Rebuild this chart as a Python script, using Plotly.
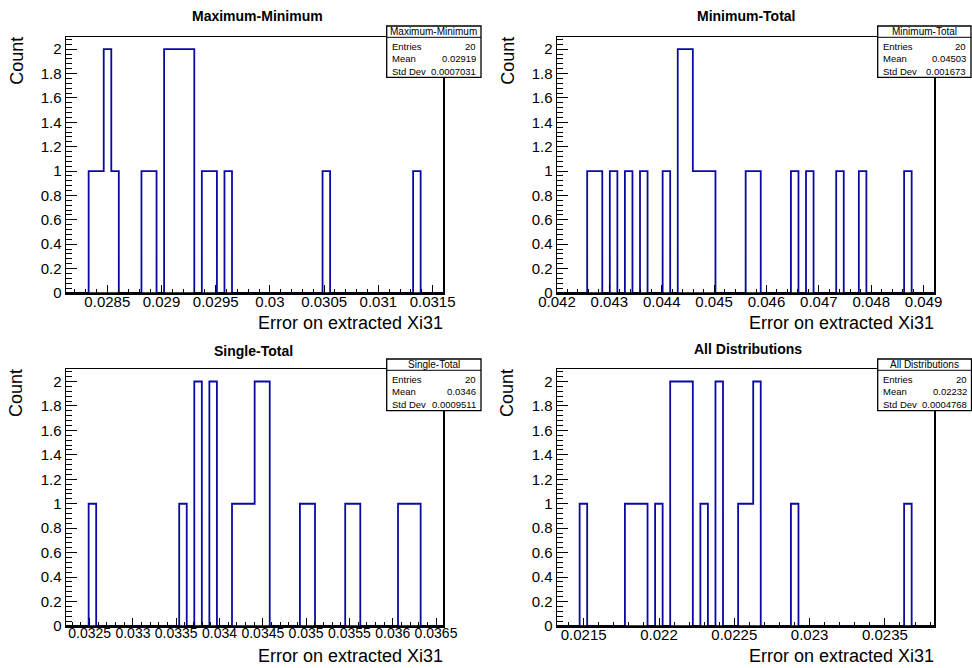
import numpy as np
import plotly.graph_objects as go

# ---------------- data ----------------
titles = ["Maximum-Minimum", "Minimum-Total", "Single-Total", "All Distributions"]
n_bins = 50
x_low = [0.028119, 0.042000, 0.032227, 0.0213227]
x_high = [0.031599, 0.049204, 0.036584, 0.023828]

counts_max_min = [0, 0, 0, 1, 1, 2, 1, 0, 0, 0,
                  1, 1, 0, 2, 2, 2, 2, 0, 1, 1,
                  0, 1, 0, 0, 0, 0, 0, 0, 0, 0,
                  0, 0, 0, 0, 1, 0, 0, 0, 0, 0,
                  0, 0, 0, 0, 0, 0, 1, 0, 0, 0]
counts_min_tot = [0, 0, 0, 0, 1, 1, 0, 1, 0, 1,
                  0, 1, 0, 0, 1, 0, 2, 2, 1, 1,
                  1, 0, 0, 0, 0, 1, 1, 0, 0, 0,
                  0, 1, 0, 1, 0, 0, 0, 1, 0, 0,
                  1, 0, 0, 0, 0, 0, 1, 0, 0, 0]
counts_single_tot = [0, 0, 0, 1, 0, 0, 0, 0, 0, 0,
                     0, 0, 0, 0, 0, 1, 0, 2, 0, 2,
                     0, 0, 1, 1, 1, 2, 2, 0, 0, 0,
                     0, 1, 1, 0, 0, 0, 0, 1, 1, 0,
                     0, 0, 0, 0, 1, 1, 1, 0, 0, 0]
counts_all = [0, 0, 0, 1, 0, 0, 0, 0, 0, 1,
              1, 1, 0, 1, 0, 2, 2, 2, 0, 1,
              0, 2, 0, 0, 1, 1, 2, 0, 0, 0,
              0, 1, 0, 0, 0, 0, 0, 0, 0, 0,
              0, 0, 0, 0, 0, 0, 1, 0, 0, 0]
all_counts = [counts_max_min, counts_min_tot, counts_single_tot, counts_all]

stat_entries = ["20", "20", "20", "20"]
stat_mean = ["0.02919", "0.04503", "0.0346", "0.02232"]
stat_std = ["0.0007031", "0.001673", "0.0009511", "0.0004768"]

x_major = [0.0005, 0.001, 0.0005, 0.0005]
x_minor = [0.0001, 0.0002, 0.0001, 0.0001]
y_max = 2.1

x_title = "Error on extracted Xi31"
y_title = "Count"

# ---------------- layout helpers ----------------
W, H = 972, 668
FONT = "Liberation Sans, Arial, Helvetica, sans-serif"
LINE_COLOR = "#0a0aa0"


def px(x):
    return x / W


def py(y):
    return 1 - y / H


# frame pixel boxes: (left, right, top, bottom)
frames = [(66, 443.3, 37, 293), (557, 934.3, 37, 293),
          (66, 443.3, 369.3, 626), (557, 934.3, 369.3, 626)]
stat_boxes = [(386.7, 481, 26, 77.3), (877.7, 971, 26, 77.3),
              (386.7, 481, 359, 410.7), (877.7, 971.5, 359, 410.7)]
title_pos = [(257.7, 16), (746.7, 16), (254, 350.7), (747.7, 349)]
x_tick_size = [15, 15, 14, 15]

fig = go.Figure()
layout = dict(
    template="none",
    width=W, height=H,
    margin=dict(l=0, r=0, t=0, b=0, pad=0, autoexpand=False),
    paper_bgcolor="white", plot_bgcolor="white",
    showlegend=False,
    font=dict(family=FONT, color="black"),
)
annotations = []
shapes = []

for i in range(4):
    sfx = "" if i == 0 else str(i + 1)
    edges = np.linspace(x_low[i], x_high[i], n_bins + 1)
    c = list(all_counts[i])
    ys = c + [c[-1]]
    fig.add_trace(go.Scatter(
        x=edges, y=ys, mode="lines", line=dict(shape="hv", color=LINE_COLOR, width=1.8),
        xaxis="x" + sfx, yaxis="y" + sfx, hoverinfo="skip",
    ))
    l, r, t, b = frames[i]
    layout["xaxis" + sfx] = dict(
        domain=[px(l), px(r)], anchor="y" + sfx, range=[x_low[i], x_high[i]],
        automargin=False,
        tick0=0, dtick=x_major[i], ticks="inside", ticklen=8, tickwidth=1, tickcolor="black",
        minor=dict(tick0=0, dtick=x_minor[i], ticks="inside", ticklen=4, tickwidth=1,
                   tickcolor="black", showgrid=False),
        showline=True, linecolor="black", linewidth=1.5, mirror=True,
        showgrid=False, zeroline=False, tickangle=0, ticklabelstandoff=-6,
        tickfont=dict(family=FONT, size=x_tick_size[i], color="black"),
    )
    layout["yaxis" + sfx] = dict(
        domain=[py(b), py(t)], anchor="x" + sfx, range=[0, y_max],
        automargin=False,
        tick0=0, dtick=0.2, ticks="inside", ticklen=11, tickwidth=1, tickcolor="black",
        minor=dict(tick0=0, dtick=0.04, ticks="inside", ticklen=6, tickwidth=1,
                   tickcolor="black", showgrid=False),
        showline=True, linecolor="black", linewidth=1.5, mirror=True,
        showgrid=False, zeroline=False,
        tickfont=dict(family=FONT, size=15, color="black"),
    )
    # black baseline over the histogram's zero level (as the frame hides it in ROOT)
    shapes.append(dict(type="line", xref="x" + sfx + " domain", yref="y" + sfx,
                       x0=0, x1=1, y0=0, y1=0,
                       line=dict(color="black", width=1.6), layer="above"))
    # histogram title
    tx, ty = title_pos[i]
    annotations.append(dict(
        x=px(tx), y=py(ty), xref="paper", yref="paper", showarrow=False,
        text="<b>" + titles[i] + "</b>", font=dict(family=FONT, size=14, color="black"),
        xanchor="center", yanchor="middle",
    ))
    # axis titles
    annotations.append(dict(
        x=px(r + 2), y=py(b + 30), xref="paper", yref="paper", showarrow=False,
        text=x_title, font=dict(family=FONT, size=18, color="black"),
        xanchor="right", yanchor="middle",
    ))
    annotations.append(dict(
        x=px(l - 49.3), y=py(t - 2), xref="paper", yref="paper", showarrow=False,
        text=y_title, textangle=-90, font=dict(family=FONT, size=18, color="black"),
        xanchor="center", yanchor="top",
    ))
    # stat box
    sl, sr, st, sb = stat_boxes[i]
    shapes.append(dict(type="rect", xref="paper", yref="paper",
                       x0=px(sl), x1=px(sr), y0=py(sb), y1=py(st),
                       fillcolor="white", line=dict(color="black", width=1.3), layer="above"))
    shapes.append(dict(type="line", xref="paper", yref="paper",
                       x0=px(sl), x1=px(sr), y0=py(st + 11.3), y1=py(st + 11.3),
                       line=dict(color="black", width=1), layer="above"))
    annotations.append(dict(
        x=px((sl + sr) / 2), y=py(st + 5.8), xref="paper", yref="paper", showarrow=False,
        text=titles[i], font=dict(family=FONT, size=10, color="black"),
        xanchor="center", yanchor="middle",
    ))
    rows = [("Entries", stat_entries[i]), ("Mean", stat_mean[i]), ("Std Dev", stat_std[i])]
    for k, (lab, val) in enumerate(rows):
        yy = st + 20.7 + 12.2 * k
        annotations.append(dict(
            x=px(sl + 3), y=py(yy), xref="paper", yref="paper", showarrow=False,
            text=lab, font=dict(family=FONT, size=9.5, color="black"),
            xanchor="left", yanchor="middle",
        ))
        annotations.append(dict(
            x=px(sr - 3), y=py(yy), xref="paper", yref="paper", showarrow=False,
            text=val, font=dict(family=FONT, size=9.5, color="black"),
            xanchor="right", yanchor="middle",
        ))

layout["annotations"] = annotations
layout["shapes"] = shapes
fig.update_layout(**layout)
fig.write_html(
    "out.html",
    config={"displayModeBar": False, "staticPlot": True},
    post_script="document.body.style.margin='0';document.body.style.padding='0';"
                "document.body.style.overflow='hidden';",
)
